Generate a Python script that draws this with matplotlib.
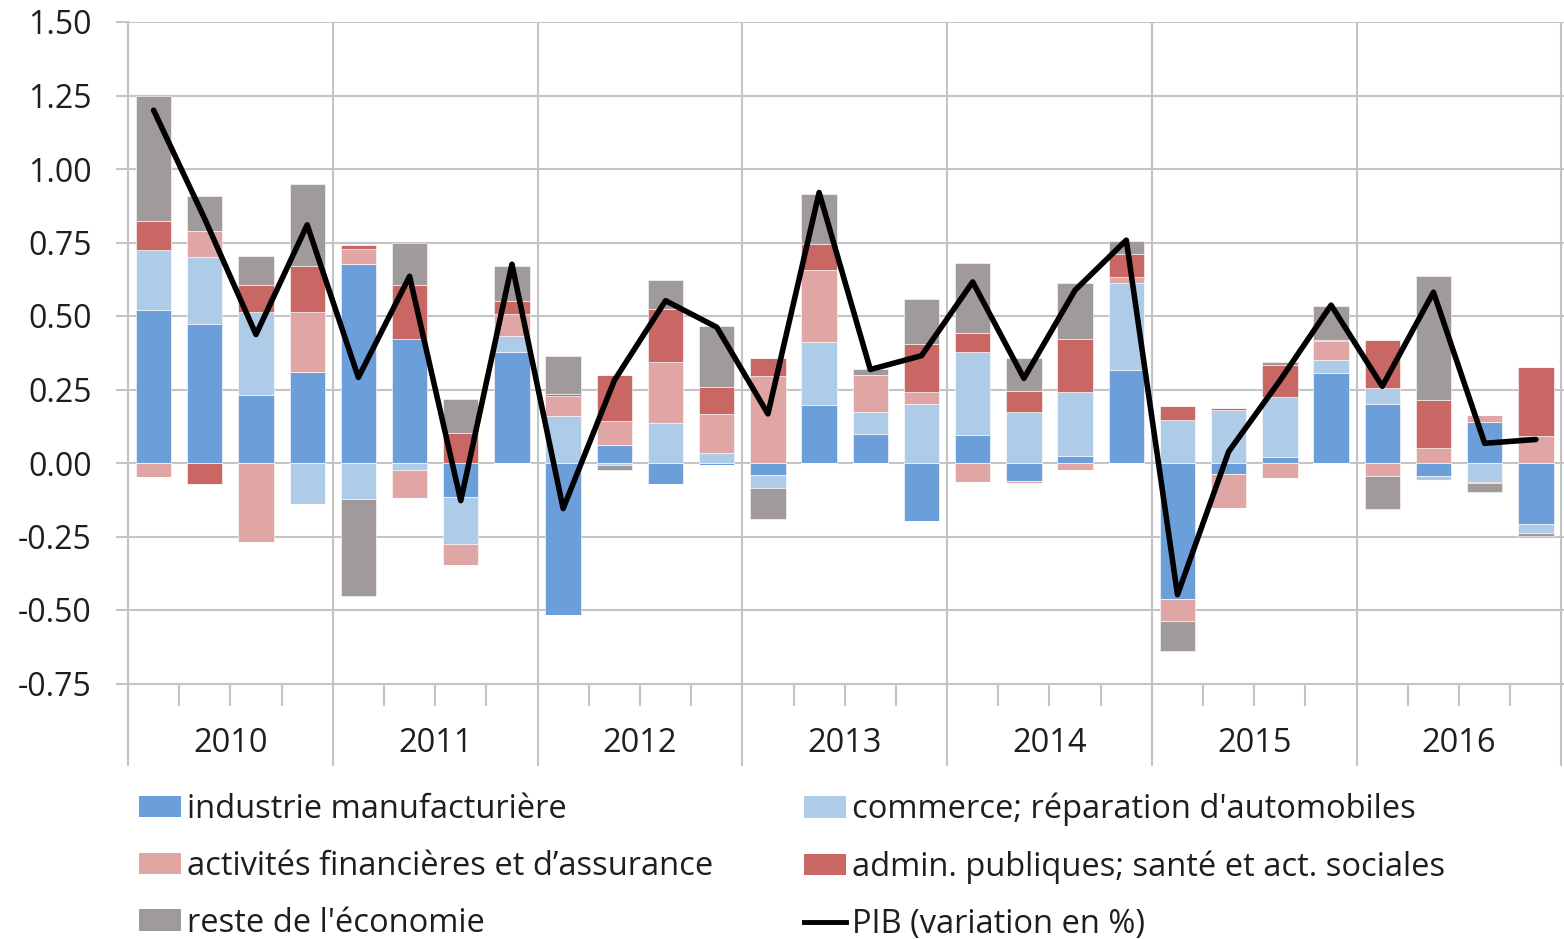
import numpy as np
import matplotlib.pyplot as plt
from matplotlib.transforms import blended_transform_factory
from matplotlib.patches import Patch
from matplotlib.lines import Line2D

plt.rcParams['font.family'] = ['Open Sans', 'DejaVu Sans']
plt.rcParams['axes.unicode_minus'] = False

years = ['2010', '2011', '2012', '2013', '2014', '2015', '2016']

# contributions by sector, one value per quarter 2010T1 .. 2016T4
manuf = [0.520, 0.472, 0.231, 0.309, 0.676, 0.423, -0.117, 0.376,
         -0.517, 0.061, -0.072, -0.007, -0.042, 0.196, 0.097, -0.197,
         0.095, -0.061, 0.024, 0.318, -0.462, -0.039, 0.019, 0.306,
         0.201, -0.044, 0.138, -0.207]
commerce = [0.205, 0.228, 0.284, -0.140, -0.122, -0.023, -0.160, 0.055,
            0.160, -0.008, 0.137, 0.035, -0.043, 0.216, 0.077, 0.199,
            0.284, 0.173, 0.219, 0.295, 0.147, 0.180, 0.206, 0.043,
            0.054, -0.014, -0.064, -0.032]
finance = [-0.047, 0.089, -0.270, 0.206, 0.052, -0.096, -0.070, 0.076,
           0.067, 0.082, 0.205, 0.130, 0.295, 0.244, 0.124, 0.042,
           -0.066, -0.006, -0.023, 0.021, -0.074, -0.113, -0.051, 0.066,
           -0.043, 0.051, 0.024, 0.092]
admin = [0.099, -0.070, 0.091, 0.155, 0.014, 0.183, 0.103, 0.044,
         0.008, 0.158, 0.181, 0.093, 0.062, 0.089, 0.000, 0.165,
         0.064, 0.073, 0.179, 0.077, 0.046, 0.006, 0.108, 0.005,
         0.165, 0.164, -0.005, 0.236]
rest = [0.423, 0.120, 0.099, 0.280, -0.329, 0.143, 0.116, 0.120,
        0.130, -0.017, 0.100, 0.208, -0.104, 0.171, 0.021, 0.153,
        0.237, 0.111, 0.190, 0.044, -0.103, 0.000, 0.010, 0.113,
        -0.113, 0.422, -0.028, -0.009]
pib = [1.20, 0.83, 0.437, 0.810, 0.291, 0.635, -0.128, 0.676,
       -0.155, 0.281, 0.552, 0.462, 0.167, 0.920, 0.318, 0.365,
       0.616, 0.288, 0.588, 0.758, -0.448, 0.039, 0.28, 0.537,
       0.261, 0.581, 0.067, 0.080]

series = [manuf, commerce, finance, admin, rest]
labels = ["industrie manufacturière", "commerce; réparation d'automobiles",
          "activités financières et d’assurance",
          "admin. publiques; santé et act. sociales", "reste de l'économie"]
colors = ['#6C9EDA', '#AECCE8', '#E0A6A6', '#C86764', '#A09B9A']
grid_c = '#C4C4C4'
txt_c = '#1E1E1E'

fig = plt.figure(figsize=(15.64, 9.39), dpi=100)
ax = fig.add_axes([128 / 1564, 1 - 683.5 / 939, 1 - 128 / 1564, (683.5 - 22) / 939])

x = np.arange(len(pib))
pos_bottom = np.zeros(len(pib))
neg_bottom = np.zeros(len(pib))
for vals, col in zip(series, colors):
    v = np.array(vals)
    pos = np.clip(v, 0, None)
    neg = np.clip(v, None, 0)
    ax.bar(x, pos, 0.69, bottom=pos_bottom, color=col, edgecolor='white', linewidth=0.4, zorder=2)
    ax.bar(x, neg, 0.69, bottom=neg_bottom, color=col, edgecolor='white', linewidth=0.4, zorder=2)
    pos_bottom += pos
    neg_bottom += neg

ax.plot(x, pib, color='black', lw=4, solid_joinstyle='round', solid_capstyle='round', zorder=3)

ax.set_xlim(-0.5, 27.55)
ax.set_ylim(-0.75, 1.5)
ax.set_yticks(np.arange(-0.75, 1.51, 0.25))
ax.set_yticklabels([f'{t:.2f}' for t in np.arange(-0.75, 1.51, 0.25)])

# long separators between years, short ticks between quarters
year_edges = np.arange(-0.5, 28, 4)
ax.set_xticks(year_edges)
ax.set_xticklabels([])
ax.set_xticks([q for q in np.arange(0.5, 27.5, 1) if (q + 0.5) % 4 != 0], minor=True)
ax.tick_params(axis='x', which='major', length=59, width=1.5, color=grid_c)
ax.tick_params(axis='x', which='minor', length=16, width=1.5, color=grid_c)
ax.tick_params(axis='y', length=9, width=1.5, color=grid_c, pad=17,
               labelsize=23, labelcolor=txt_c)

ax.grid(True, which='major', color=grid_c, lw=1.5, zorder=0)
ax.set_axisbelow(True)
for s in ['top', 'right']:
    ax.spines[s].set_visible(False)
for s in ['left', 'bottom']:
    ax.spines[s].set_color(grid_c)
    ax.spines[s].set_linewidth(1.5)

trans = blended_transform_factory(ax.transData, fig.transFigure)
for i, yr in enumerate(years):
    ax.text(4 * i + 1.5, 1 - 744 / 939, yr, transform=trans, ha='center', va='center',
            fontsize=23.5, color=txt_c)

# legend in two columns
h = [Patch(facecolor=c, edgecolor='none') for c in colors]
pib_h = Line2D([], [], color='black', lw=3.5)
left_items = [(h[0], labels[0]), (h[2], labels[2]), (h[4], labels[4])]
right_items = [(h[1], labels[1]), (h[3], labels[3]), (pib_h, 'PIB (variation en %)')]
for items, x0 in [(left_items, 139 / 1564), (right_items, 804 / 1564)]:
    leg = fig.legend([a for a, _ in items], [b for _, b in items], loc='upper left',
                     bbox_to_anchor=(x0, 1 - 793 / 939), frameon=False, fontsize=23.5,
                     handlelength=1.29, handleheight=0.64, handletextpad=0.18,
                     labelspacing=0.73, borderpad=0, borderaxespad=0)
    for t in leg.get_texts():
        t.set_color(txt_c)

fig.savefig('out.png', dpi=100)
